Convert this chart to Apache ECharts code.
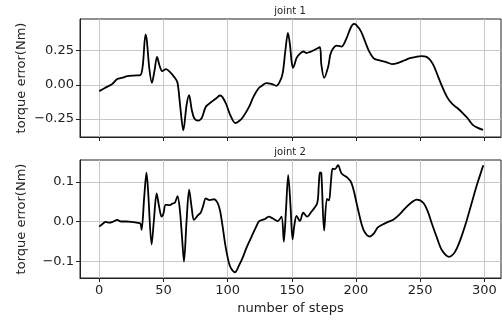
<!DOCTYPE html>
<html>
<head>
<meta charset="utf-8">
<script src="https://cdn.jsdelivr.net/npm/echarts@6/dist/echarts.min.js"></script>
<style>
html,body{margin:0;padding:0;background:#fff;}
#c{width:502px;height:320px;}
</style>
</head>
<body>
<div id="c"></div>
<script>
// joint 1 torque error
const steps1 = [0,4,7,10,14,18,22,27,32,34,36,37,39,41,43,45,47,49,52,55,59,61,63,65.5,68,70,72,74,77,80,83,87,91,94,96,99,102,106,109,112,117,120,124,127,130,134,138,141,143,145,147,148.5,150,151,153.7,156,159,161.5,164,166.7,169,171.9,173,175.2,178.4,180,181.8,184.9,188.8,192.7,196,198.4,200,204,207,210,214,219,224,228,233,238,242,247,251,255,258,261,264,267,271,275,279,283,287,291,295,299];
const values1 = [-0.046,-0.025,-0.01,0.005,0.042,0.052,0.064,0.068,0.071,0.15,0.368,0.33,0.12,0.015,0.10,0.205,0.14,0.10,0.115,0.095,0.05,0.015,-0.15,-0.334,-0.15,-0.076,-0.18,-0.245,-0.262,-0.24,-0.16,-0.128,-0.1,-0.078,-0.09,-0.144,-0.22,-0.28,-0.265,-0.236,-0.156,-0.09,-0.027,-0.005,0.012,0.007,-0.007,0.03,0.09,0.25,0.38,0.3,0.16,0.125,0.195,0.225,0.244,0.233,0.24,0.251,0.262,0.275,0.15,0.051,0.134,0.22,0.261,0.287,0.28,0.342,0.42,0.446,0.44,0.39,0.32,0.25,0.193,0.178,0.165,0.152,0.161,0.18,0.195,0.205,0.21,0.205,0.18,0.132,0.06,-0.01,-0.09,-0.14,-0.17,-0.205,-0.245,-0.293,-0.315,-0.33];

// joint 2 torque error
const steps2 = [0,3,5,8,11,14,17,21,25,29,32,33,35,36.8,38,40.8,42.5,44.7,46.5,48.6,50,51.7,55,57,59,61,62.8,64.5,66,68,70,72,73.8,77,79,81,83,86,89.6,92,94,96,98,100,102,105.7,109,112,115,118.7,122,124.6,129,132,135,139,142,143.8,145.5,147.2,149,150.6,152,153.7,156.3,158.9,162,165.4,169.8,171,171.9,173,175.2,177.4,179,180.5,181.8,183.6,186,188.8,193.5,196.2,198.5,200.5,204.4,207,210.6,214,217,220,225,229.3,234,238.3,243,247.3,252.5,256,259.1,263,266.9,272.6,276,278.6,282,286.4,290,294.2,297,299.2];
const values2 = [-0.013,-0.005,-0.001,-0.003,0.0,0.004,0.0,0.0,-0.001,-0.003,-0.005,-0.021,0.06,0.123,0.08,-0.058,0.0,0.071,0.04,0.012,0.02,0.042,0.041,0.045,0.048,0.064,0.029,-0.04,-0.101,0.0,0.08,0.035,0.004,0.016,0.022,0.04,0.058,0.054,0.056,0.048,0.029,-0.01,-0.055,-0.09,-0.114,-0.128,-0.11,-0.089,-0.064,-0.038,-0.015,0.001,0.006,0.012,0.008,0.001,0.012,-0.051,0.03,0.117,0.04,-0.045,-0.01,0.014,0.001,0.022,0.012,0.025,0.046,0.09,0.124,0.122,-0.023,0.057,0.053,0.1,0.133,0.132,0.142,0.121,0.11,0.099,0.075,0.046,-0.007,-0.028,-0.038,-0.03,-0.015,-0.009,-0.001,0.005,0.018,0.033,0.047,0.055,0.047,0.025,-0.005,-0.04,-0.072,-0.089,-0.082,-0.068,-0.04,0.004,0.045,0.092,0.12,0.142];

const xTicks = [0,50,100,150,200,250,300];
const yTicks1 = [-0.25,0,0.25];
const yTicks2 = [-0.1,0,0.1];
const titles = ['joint 1','joint 2'];
const yName = 'torque error(Nm)';
const xName = 'number of steps';

const FONT = 'DejaVu Sans';
const pairs = (xs, ys) => xs.map((x,i)=>[x, ys[i]]);
const fmt = d => v => v.toFixed(d).replace('-', '\u2212');

const chart = echarts.init(document.getElementById('c'), null, {renderer:'canvas'});

function xAxis(gi, showLabels){
  return {
    type:'value', gridIndex:gi, min:-15, max:313, position:'bottom',
    axisLine:{show:true, onZero:false, lineStyle:{color:'#222', width:1}},
    axisTick:{show:true, inside:false, length:4, customValues:xTicks, lineStyle:{color:'#222'}},
    axisLabel:{show:showLabels, customValues:xTicks, margin:6, fontFamily:FONT, fontSize:13, color:'#222'},
    splitLine:{show:true, lineStyle:{color:'#c8c8c8', width:1}},
    name: showLabels ? xName : '', nameLocation:'middle', nameGap:24, nameMoveOverlap:false,
    nameTextStyle:{fontFamily:FONT, fontSize:13, color:'#222'}
  };
}
function yAxis(gi, min, max, ticks, dec){
  return {
    type:'value', gridIndex:gi, min:min, max:max, position:'left',
    axisLine:{show:true, onZero:false, lineStyle:{color:'#222', width:1}},
    axisTick:{show:true, inside:false, length:4, customValues:ticks, lineStyle:{color:'#222'}},
    axisLabel:{customValues:ticks, formatter:fmt(dec), margin:6, fontFamily:FONT, fontSize:13, color:'#222'},
    splitLine:{show:true, lineStyle:{color:'#c8c8c8', width:1}},
    name:yName, nameLocation:'middle', nameGap:52, nameMoveOverlap:false,
    nameTextStyle:{fontFamily:FONT, fontSize:13, color:'#222'}
  };
}

chart.setOption({
  animation:false,
  backgroundColor:'#fff',
  title:[
    {text:titles[0], left:290, top:6, padding:0, textAlign:'center', textStyle:{fontFamily:FONT, fontSize:10, fontWeight:'normal', color:'#222'}},
    {text:titles[1], left:290, top:147, padding:0, textAlign:'center', textStyle:{fontFamily:FONT, fontSize:10, fontWeight:'normal', color:'#222'}}
  ],
  grid:[
    {left:80, top:19, width:421, height:118, show:true, borderColor:'#222', borderWidth:1, backgroundColor:'transparent'},
    {left:80, top:160, width:421, height:118, show:true, borderColor:'#222', borderWidth:1, backgroundColor:'transparent'}
  ],
  xAxis:[xAxis(0,false), xAxis(1,true)],
  yAxis:[yAxis(0,-0.382,0.482,yTicks1,2), yAxis(1,-0.1425,0.155,yTicks2,1)],
  series:[
    {type:'line', xAxisIndex:0, yAxisIndex:0, data:pairs(steps1, values1), showSymbol:false, smooth:0.3,
     lineStyle:{color:'#000', width:1.8}},
    {type:'line', xAxisIndex:1, yAxisIndex:1, data:pairs(steps2, values2), showSymbol:false, smooth:0.3,
     lineStyle:{color:'#000', width:1.8}}
  ]
});
</script>
</body>
</html>
